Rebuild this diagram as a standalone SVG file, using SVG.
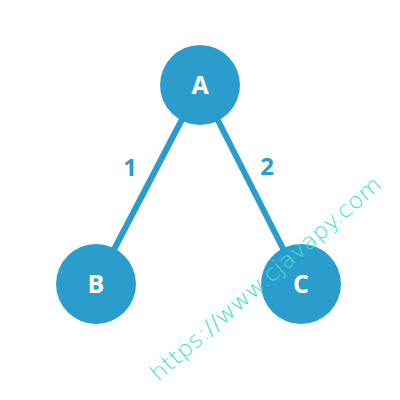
<svg xmlns="http://www.w3.org/2000/svg" width="400" height="400" viewBox="0 0 400 400">
<style>
.edge{stroke:#2b9dcc;stroke-width:6;fill:none}
.node{fill:#2b9dcc}
.nl{fill:#ffffff;font-family:"Open Sans","Noto Sans",sans-serif;font-weight:bold;font-size:25px;text-anchor:middle}
.el{fill:#2b9dcc;font-family:"Open Sans","Noto Sans",sans-serif;font-weight:bold;font-size:24px;text-anchor:middle}
.wm{fill:#3fe0d0;font-family:"DejaVu Sans",sans-serif;font-weight:200;font-size:22px}
</style>
<rect width="400" height="400" fill="#ffffff"/>
<g id="edges">
<line class="edge" x1="200" y1="85" x2="96" y2="284"/>
<line class="edge" x1="200" y1="85" x2="301" y2="284"/>
<text class="el" x="130" y="176">1</text>
<text class="el" x="267" y="175">2</text>
</g>
<g id="A"><circle class="node" cx="200" cy="85" r="40"/><text class="nl" x="200" y="94">A</text></g>
<g id="B"><circle class="node" cx="96" cy="284" r="40"/><text class="nl" x="96" y="293">B</text></g>
<g id="C"><circle class="node" cx="301" cy="284" r="40"/><text class="nl" x="301" y="293">C</text></g>
<text class="wm" transform="translate(158,382) rotate(-41)" textLength="298" lengthAdjust="spacingAndGlyphs">https://www.cjavapy.com</text>
</svg>
